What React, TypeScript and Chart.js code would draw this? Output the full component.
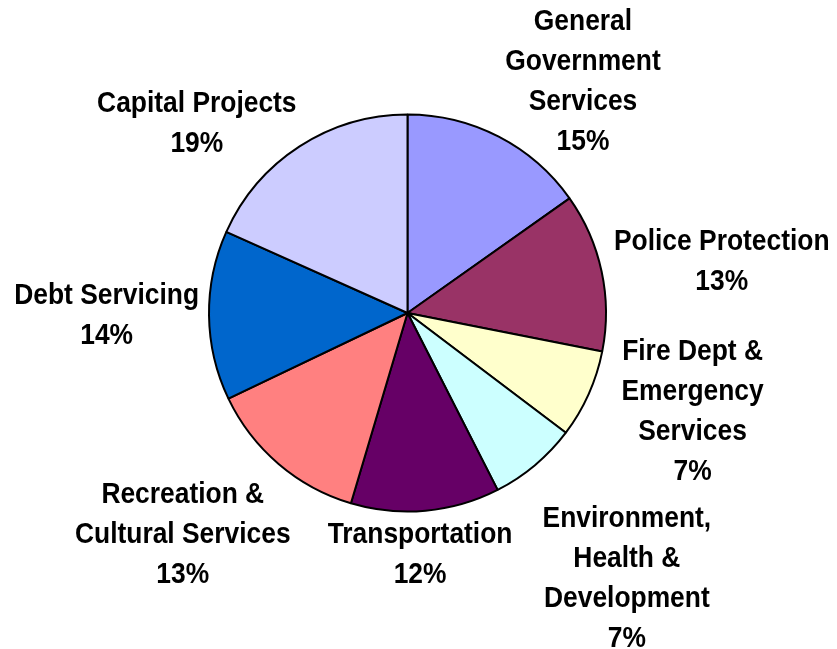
import { useEffect, useRef } from "react";
import { Chart, ArcElement, PieController } from "chart.js";

Chart.register(ArcElement, PieController);

const categories: string[][] = [
  ["General", "Government", "Services"],
  ["Police Protection"],
  ["Fire Dept &", "Emergency", "Services"],
  ["Environment,", "Health &", "Development"],
  ["Transportation"],
  ["Recreation &", "Cultural Services"],
  ["Debt Servicing"],
  ["Capital Projects"],
];
const shares = [15.2, 12.9, 7.2, 7.2, 12.1, 13.3, 13.8, 18.3];
const percentLabels = ["15%", "13%", "7%", "7%", "12%", "13%", "14%", "19%"];
const colors = ["#9999FF", "#993366", "#FFFFCC", "#CCFFFF", "#660066", "#FF8080", "#0066CC", "#CCCCFF"];
const labelNudges: [number, number][] = [
  [43, 16], [3, -3], [28, -18], [30, 48], [-15, -1], [-18, 21], [2, -3], [-42, 11],
];

const FONT = "bold 29px 'Liberation Sans', Arial, sans-serif";
const SX = 0.91;
const LH = 40;
const CAP = 21;
const GAP = 12;

const labelPlugin = {
  id: "outsideLabels",
  afterDatasetsDraw(chart: any) {
    const ctx = chart.ctx as CanvasRenderingContext2D;
    const meta = chart.getDatasetMeta(0);
    ctx.save();
    ctx.font = FONT;
    ctx.fillStyle = "#000";
    ctx.textAlign = "center";
    ctx.textBaseline = "alphabetic";
    meta.data.forEach((arc: any, i: number) => {
      const { x, y, startAngle, endAngle, outerRadius } = arc.getProps(
        ["x", "y", "startAngle", "endAngle", "outerRadius"],
        true
      );
      const a = (startAngle + endAngle) / 2;
      const lines = [...categories[i], percentLabels[i]];
      const w = Math.max(...lines.map((l) => ctx.measureText(l).width)) * SX;
      const h = (lines.length - 1) * LH + CAP;
      const r = outerRadius + GAP;
      const cx = x + (r + w / 2) * Math.cos(a) + labelNudges[i][0];
      const cy = y + (r + h / 2) * Math.sin(a) + labelNudges[i][1];
      const firstBase = cy - h / 2 + CAP;
      lines.forEach((l, k) => {
        ctx.save();
        ctx.translate(cx, firstBase + k * LH);
        ctx.scale(SX, 1);
        ctx.fillText(l, 0, 0);
        ctx.restore();
      });
    });
    ctx.restore();
  },
};

export default function App() {
  const ref = useRef<HTMLCanvasElement>(null);
  useEffect(() => {
    document.body.style.margin = "0";
    const chart = new Chart(ref.current!, {
      type: "pie",
      data: {
        labels: categories.map((c) => c.join(" ")),
        datasets: [
          {
            data: shares,
            backgroundColor: colors,
            borderColor: "#000000",
            borderWidth: 2,
            hoverOffset: 0,
            offset: 0,
          },
        ],
      },
      options: {
        responsive: false,
        animation: false,
        devicePixelRatio: 1,
        radius: 198.5,
        layout: { padding: { left: 158, right: 180, top: 63, bottom: 86 } },
        plugins: { legend: { display: false }, tooltip: { enabled: false } },
        events: [],
      } as any,
      plugins: [labelPlugin],
    });
    return () => chart.destroy();
  }, []);
  return (
    <div style={{ width: 837, height: 649, background: "#fff" }}>
      <canvas ref={ref} width={837} height={649} style={{ display: "block" }} />
    </div>
  );
}
